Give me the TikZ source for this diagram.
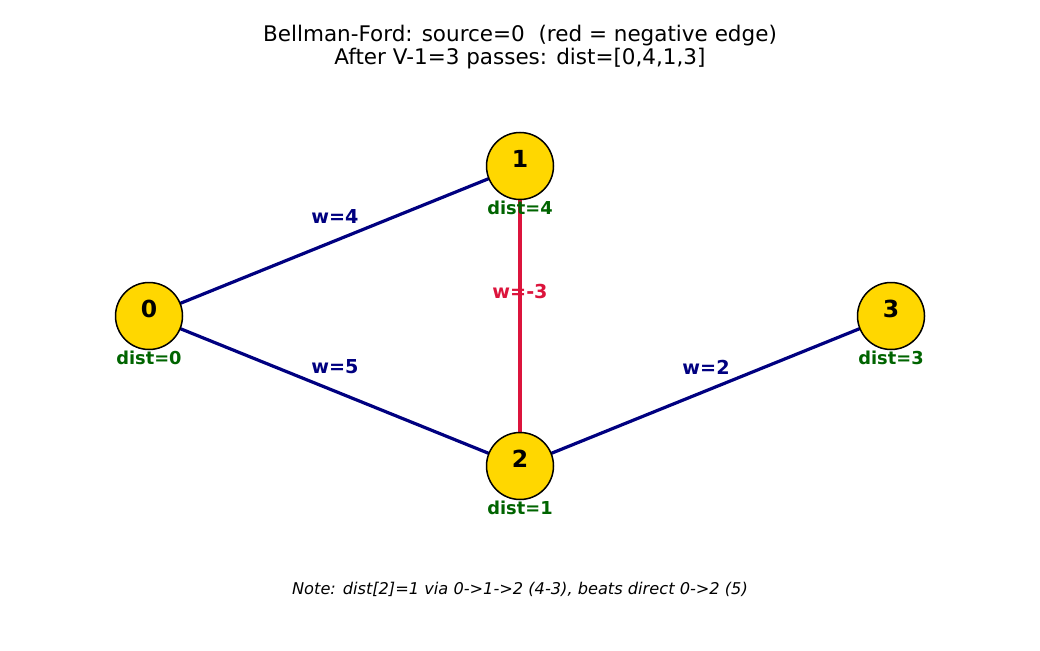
\documentclass[tikz,border=0pt]{standalone}
\usepackage{fontspec}
\setmainfont{DejaVu Sans}
\definecolor{navyc}{HTML}{000080}
\definecolor{crimsonc}{HTML}{DC143C}
\definecolor{goldc}{HTML}{FFD700}
\definecolor{dgreen}{HTML}{006400}
\begin{document}
\begin{tikzpicture}[x=1pt,y=-1pt,
  vert/.style={circle,draw=black,line width=1.5pt,fill=goldc,minimum size=67pt,inner sep=0pt},
  vlabel/.style={font=\fontsize{23.5}{26}\selectfont\bfseries,inner sep=0pt},
  dlabel/.style={font=\fontsize{17.8}{20}\selectfont\bfseries,text=dgreen,inner sep=0pt},
  wlabel/.style={font=\fontsize{19.2}{22}\selectfont\bfseries,text=navyc,inner sep=0pt},
  nlabel/.style={font=\fontsize{19.2}{22}\selectfont\bfseries,text=crimsonc,inner sep=0pt},
  bluedge/.style={line width=3.2pt,draw=navyc},
  rededge/.style={line width=3.2pt,draw=crimsonc},
  ttl/.style={font=\fontsize{21.5}{23.5}\selectfont,inner sep=0pt,align=center},
  note/.style={font=\fontsize{16.2}{19}\selectfont\itshape,inner sep=0pt}]
\useasboundingbox (0,0) rectangle (1040,650);
\coordinate (c0) at (149,316);
\coordinate (c1) at (520,166);
\coordinate (c2) at (520,466);
\coordinate (c3) at (891,316);
% edges
\draw[bluedge] (c0) -- (c1);
\draw[bluedge] (c0) -- (c2);
\draw[bluedge] (c2) -- (c3);
\draw[rededge] (c1) -- (c2);
% vertices
\node[vert] (n0) at (c0) {};
\node[vert] (n1) at (c1) {};
\node[vert] (n2) at (c2) {};
\node[vert] (n3) at (c3) {};
\node[vlabel] (l0) at (149,309) {0};
\node[vlabel] (l1) at (520,159) {1};
\node[vlabel] (l2) at (520,459) {2};
\node[vlabel] (l3) at (891,309) {3};
% dist labels
\node[dlabel] (d0) at (149,358) {dist=0};
\node[dlabel] (d1) at (520,208) {dist=4};
\node[dlabel] (d2) at (520,508) {dist=1};
\node[dlabel] (d3) at (891,358) {dist=3};
% weights
\node[wlabel] (w01) at (335,217) {w=4};
\node[wlabel] (w02) at (335,367) {w=5};
\node[wlabel] (w23) at (706,367) {w=2};
\node[nlabel] (w12) at (520,292) {w=-3};
% title and note
\node[ttl] (title) at (520,47) {Bellman-Ford: source=0\ \ (red = negative edge)\\After V-1=3 passes: dist=[0,4,1,3]};
\node[note] (nt) at (520,589) {Note: dist[2]=1 via 0->1->2 (4-3), beats direct 0->2 (5)};
\end{tikzpicture}
\end{document}
